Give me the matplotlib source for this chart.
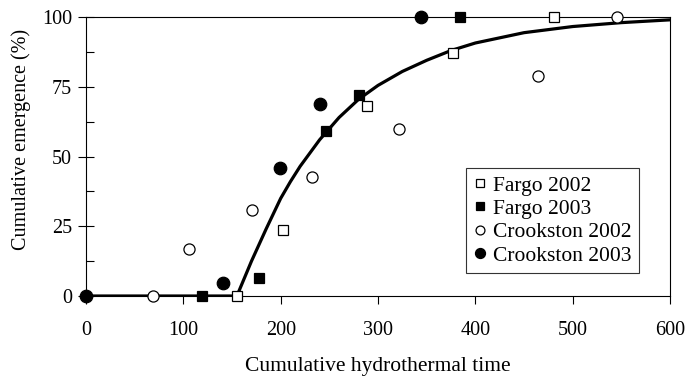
import matplotlib
matplotlib.use("Agg")
import matplotlib.pyplot as plt
from matplotlib.ticker import MultipleLocator

plt.rcParams['font.family'] = ['Liberation Serif', 'DejaVu Serif']

fargo02_x = [155, 202, 289, 377, 481]
fargo02_y = [0, 23.5, 68, 87, 100]
fargo03_x = [119, 178, 247, 280, 384]
fargo03_y = [0, 6.5, 59, 72, 100]
crook02_x = [69, 106, 171, 232, 322, 464, 546]
crook02_y = [0, 17, 31, 42.5, 60, 79, 100]
crook03_x = [0, 141, 199, 240, 344]
crook03_y = [0, 4.5, 46, 69, 100]

# fitted emergence curve (traced)
fit_x = [0, 155, 170, 185, 200, 210, 220, 240, 260, 280, 300, 325, 350, 375, 400, 450, 500, 550, 600]
fit_y = [0, 0, 12.5, 24, 35, 41, 46.5, 56, 64, 70.5, 75.5, 80.5, 84.5, 88, 90.7, 94.4, 96.6, 98, 99]

x_ticks = [0, 100, 200, 300, 400, 500, 600]
y_ticks = [0, 25, 50, 75, 100]

fig = plt.figure(figsize=(6.86, 3.79), dpi=100)
ax = fig.add_axes([0.1254, 0.219, 0.8513, 0.736])

ax.plot(fit_x, fit_y, '-', color='black', lw=2.3, zorder=2)

kw = dict(ls='none', mec='black', mew=0.9, clip_on=False, zorder=3)
ax.plot(fargo02_x, fargo02_y, marker='s', ms=7, mfc='white', label='Fargo 2002', **kw)
ax.plot(fargo03_x, fargo03_y, marker='s', ms=7, mfc='black', label='Fargo 2003', **kw)
ax.plot(crook02_x, crook02_y, marker='o', ms=8, mfc='white', label='Crookston 2002', **kw)
ax.plot(crook03_x, crook03_y, marker='o', ms=9, mfc='black', label='Crookston 2003', **kw)

ax.set_xlim(0, 600)
ax.set_ylim(0, 100)
ax.set_xticks(x_ticks)
ax.set_yticks(y_ticks)
ax.yaxis.set_minor_locator(MultipleLocator(12.5))
ax.tick_params(axis='x', direction='out', length=6, width=0.8, pad=12, labelsize=14.5)
ax.tick_params(axis='y', which='major', direction='inout', length=12, width=0.8, pad=4, labelsize=14.5)
ax.tick_params(axis='y', which='minor', direction='in', length=6, width=0.8)

for sp in ax.spines.values():
    sp.set_linewidth(0.8)

ax.set_xlabel('Cumulative hydrothermal time', fontsize=15.5, labelpad=12)
ax.set_ylabel('Cumulative emergence (%)', fontsize=14.5, labelpad=8)
ax.yaxis.set_label_coords(-0.095, 0.563)

leg = ax.legend(loc='lower right', bbox_to_anchor=(0.947, 0.082), fontsize=15.5,
                handlelength=0.6, handletextpad=0.3, borderpad=0.35, labelspacing=0.15,
                markerscale=0.8, fancybox=False, framealpha=1, edgecolor='#333333',
                borderaxespad=0)
leg.get_frame().set_linewidth(0.8)

fig.savefig('out.png', dpi=100)
